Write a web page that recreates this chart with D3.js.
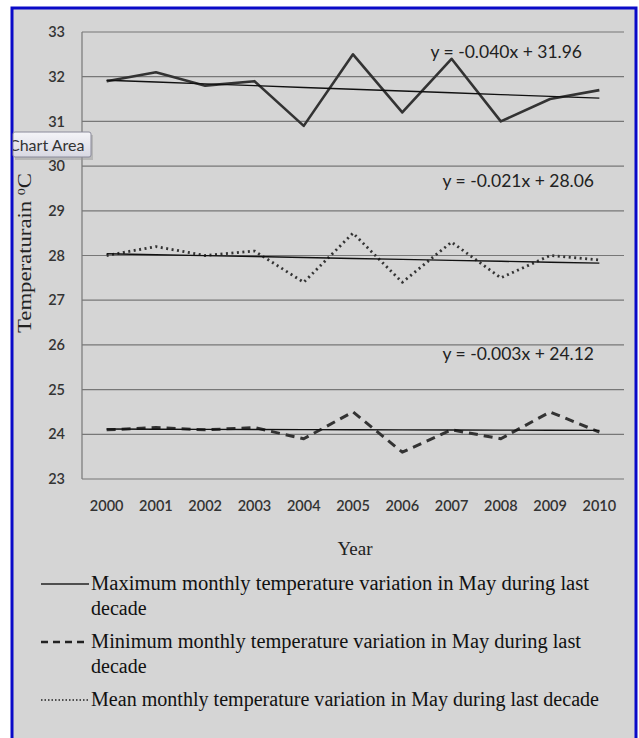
<!DOCTYPE html>
<html><head><meta charset="utf-8">
<script src="https://cdn.jsdelivr.net/npm/d3@7/dist/d3.min.js"></script>
<style>body{margin:0;background:#fff}svg{display:block}</style>
</head><body>
<script>
const years = ["2000","2001","2002","2003","2004","2005","2006","2007","2008","2009","2010"];
const maxTemp  = [31.9, 32.1, 31.8, 31.9, 30.9, 32.5, 31.2, 32.4, 31.0, 31.5, 31.7];
const meanTemp = [28.0, 28.2, 28.0, 28.1, 27.4, 28.5, 27.4, 28.3, 27.5, 28.0, 27.9];
const minTemp  = [24.1, 24.15, 24.1, 24.15, 23.9, 24.5, 23.6, 24.1, 23.9, 24.5, 24.05];
const trendSlopes = [-0.040, -0.021, -0.003];
const trendIntercepts = [31.96, 28.06, 24.12];
const trendLabels = ["y = -0.040x + 31.96", "y = -0.021x + 28.06", "y = -0.003x + 24.12"];
const yTicks = [23,24,25,26,27,28,29,30,31,32,33];
const legendLabels = [
  ["Maximum monthly temperature variation  in May during last", "decade"],
  ["Minimum monthly temperature variation in May during last", "decade"],
  ["Mean monthly temperature variation in May during last decade"]
];

const W = 639, H = 738;
const svg = d3.select("body").append("svg").attr("width", W).attr("height", H);
svg.append("rect").attr("width", W).attr("height", H).attr("fill", "#fff");
// frame
svg.append("rect").attr("x", 12).attr("y", 8).attr("width", 624).attr("height", 740)
  .attr("fill", "#d5d5d5").attr("stroke", "#0a0ac8").attr("stroke-width", 3);

const pl = 82, pr = 624, pt = 32, pb = 479;
const x = d3.scaleBand().domain(years).range([pl, pr]);
const xc = d => x(d) + x.bandwidth() / 2;
const y = d3.scaleLinear().domain([23, 33]).range([pb, pt]);

// gridlines
svg.append("g").selectAll("line").data(yTicks).join("line")
  .attr("x1", pl).attr("x2", pr).attr("y1", d => y(d)).attr("y2", d => y(d))
  .attr("stroke", "#777").attr("stroke-width", 1.2);
svg.append("line").attr("x1", pl).attr("x2", pl).attr("y1", pt).attr("y2", pb)
  .attr("stroke", "#777").attr("stroke-width", 1.2);

// y axis labels
const yAxis = d3.axisLeft(y).tickValues(yTicks).tickSize(0).tickPadding(17).tickFormat(d3.format("d"));
const gy = svg.append("g").attr("transform", `translate(${pl},0)`).call(yAxis);
gy.select(".domain").remove();
gy.selectAll("text").attr("font-family", "Lato, 'Open Sans', sans-serif").attr("font-size", 14.5)
  .attr("font-weight", 600).attr("fill", "#333");

// x axis labels
const xAxis = d3.axisBottom(x).tickSize(0).tickPadding(22);
const gx = svg.append("g").attr("transform", `translate(0,${pb})`).call(xAxis);
gx.select(".domain").remove();
gx.selectAll("text").attr("font-family", "Lato, 'Open Sans', sans-serif").attr("font-size", 14.5)
  .attr("font-weight", 600).attr("fill", "#333");

// axis titles
svg.append("text").attr("transform", `translate(31,253) rotate(-90)`).attr("text-anchor", "middle")
  .attr("font-family", "'Liberation Serif', serif").attr("font-size", 18).attr("fill", "#222")
  .attr("textLength", 160).attr("lengthAdjust", "spacingAndGlyphs")
  .html('Temperaturain <tspan dy="-6" font-size="11">0</tspan><tspan dy="6">C</tspan>');
svg.append("text").attr("x", (pl + pr) / 2 + 2).attr("y", 555).attr("text-anchor", "middle")
  .attr("font-family", "'Liberation Serif', serif").attr("font-size", 19).attr("fill", "#222").text("Year");

// series
const line = d3.line().x((d, i) => xc(years[i])).y(d => y(d));
const series = [
  {data: maxTemp, dash: null, w: 2.6},
  {data: meanTemp, dash: "2,3.5", w: 2.8},
  {data: minTemp, dash: "9,6", w: 3}
];
series.forEach(s => {
  svg.append("path").attr("d", line(s.data)).attr("fill", "none").attr("stroke", "#333")
    .attr("stroke-width", s.w).attr("stroke-dasharray", s.dash).attr("stroke-linejoin", "round");
});
// trendlines
trendSlopes.forEach((m, k) => {
  const pts = years.map((yr, i) => trendIntercepts[k] + m * (i + 1));
  svg.append("path").attr("d", line(pts)).attr("fill", "none").attr("stroke", "#111").attr("stroke-width", 1.4);
});
// trend labels
const labelY = [58, 187, 360];
trendLabels.forEach((t, k) => {
  svg.append("text").attr("x", k === 0 ? 582 : 594).attr("y", labelY[k]).attr("text-anchor", "end")
    .attr("font-family", "Lato, 'Open Sans', sans-serif").attr("font-size", 17.5).attr("fill", "#222").text(t);
});

// legend
const legY = [590, 648, 706];
const legW = [498, 490, 508];
const dashes = [null, "7,5", "1.5,2"];
const lw = [1.6, 2.6, 1.6];
legendLabels.forEach((rows, k) => {
  svg.append("line").attr("x1", 41).attr("x2", 89).attr("y1", legY[k] - 6).attr("y2", legY[k] - 6)
    .attr("stroke", "#222").attr("stroke-width", lw[k]).attr("stroke-dasharray", dashes[k]);
  rows.forEach((r, j) => {
    const t = svg.append("text").attr("x", 91).attr("y", legY[k] + j * 25)
      .attr("font-family", "'Liberation Serif', serif").attr("font-size", 20).attr("fill", "#111").text(r);
    if (j === 0) t.attr("textLength", legW[k]).attr("lengthAdjust", "spacingAndGlyphs");
  });
});

// "Chart Area" tooltip
const defs = svg.append("defs");
const grad = defs.append("linearGradient").attr("id", "tip").attr("x1", 0).attr("x2", 0).attr("y1", 0).attr("y2", 1);
grad.append("stop").attr("offset", "0%").attr("stop-color", "#f4f4f8");
grad.append("stop").attr("offset", "100%").attr("stop-color", "#d8d8e2");
defs.append("clipPath").attr("id", "tipclip").append("rect").attr("x", 13).attr("y", 0).attr("width", 200).attr("height", 300);
svg.append("rect").attr("x", 15).attr("y", 135).attr("width", 78).attr("height", 25).attr("fill", "#999").attr("opacity", 0.5);
svg.append("rect").attr("x", 13).attr("y", 132).attr("width", 78).attr("height", 25).attr("rx", 2)
  .attr("fill", "url(#tip)").attr("stroke", "#8a8a9a").attr("stroke-width", 1);
svg.append("text").attr("x", 9).attr("y", 151).attr("clip-path", "url(#tipclip)")
  .attr("font-family", "Lato, 'Open Sans', sans-serif").attr("font-size", 16).attr("fill", "#333").text("Chart Area");
</script>
</body></html>
